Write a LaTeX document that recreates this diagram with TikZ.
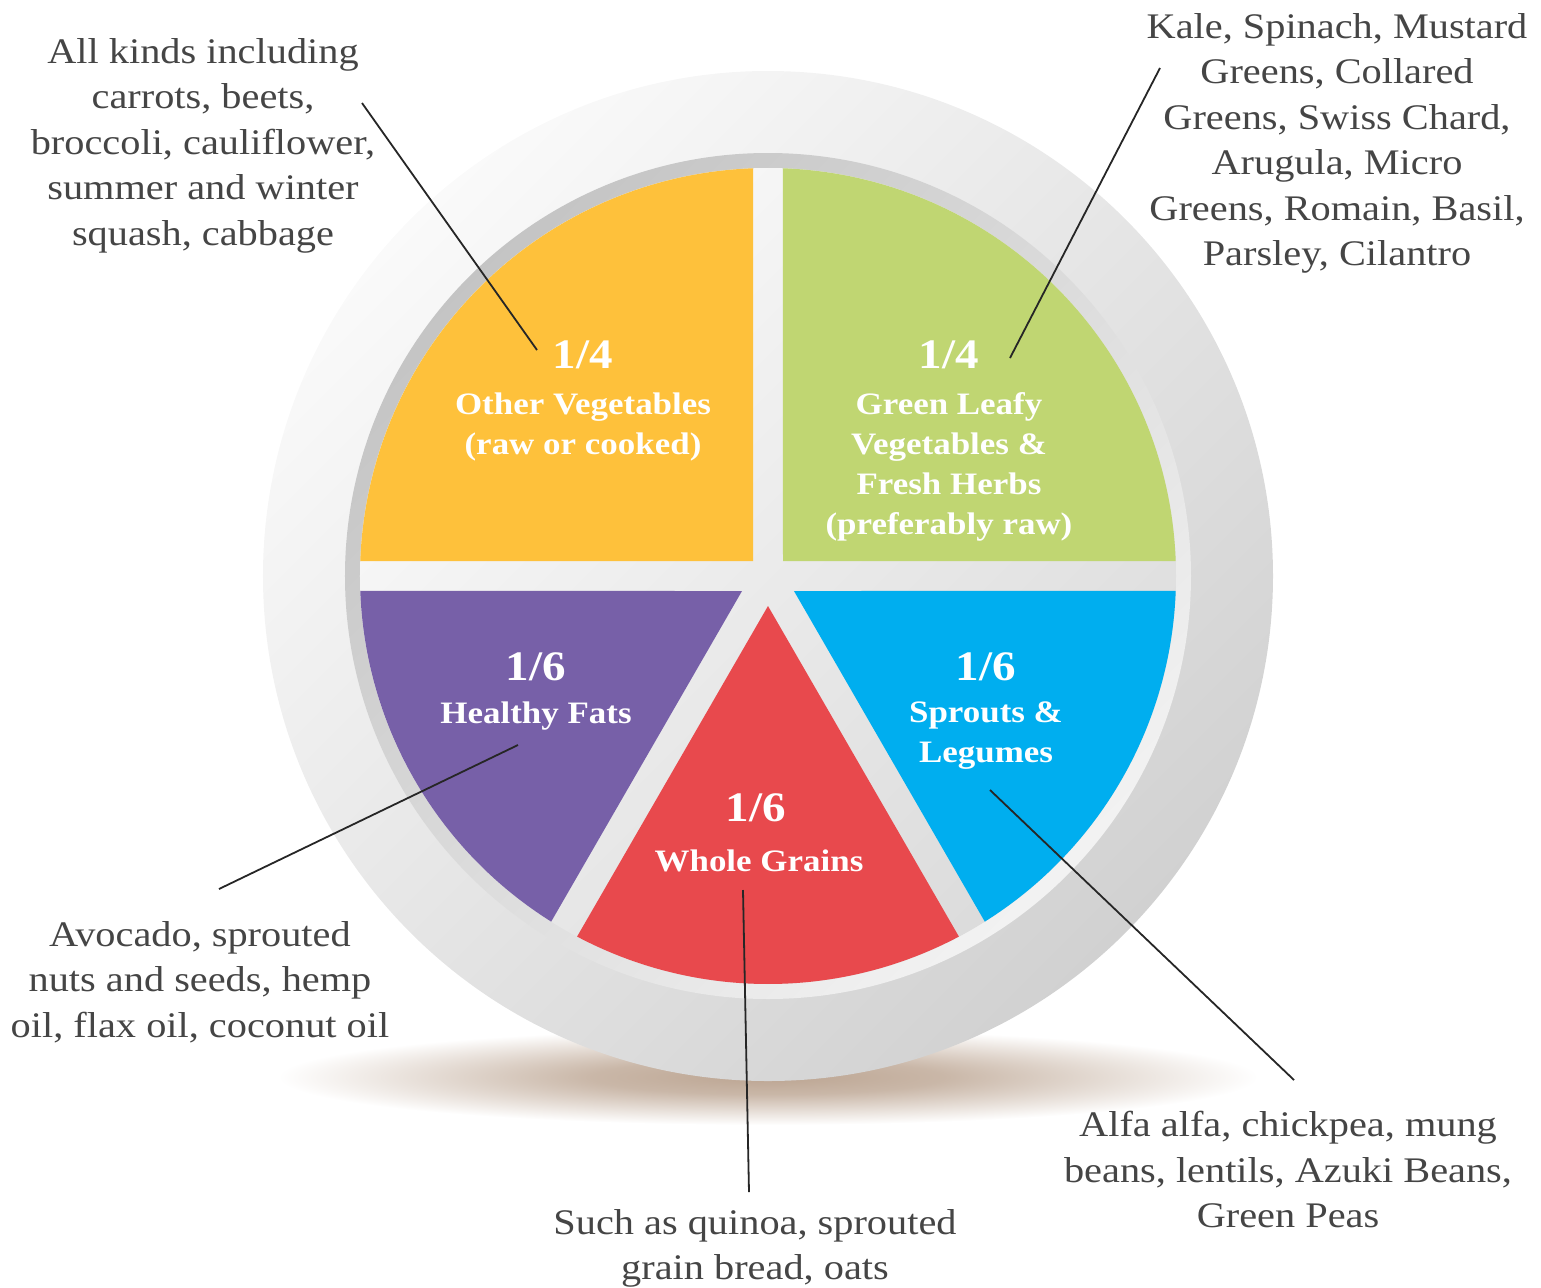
\documentclass[tikz,border=0pt]{standalone}
\usepackage{fontspec}
\setmainfont{Liberation Serif}[FakeStretch=1.12]

\definecolor{othveg}{HTML}{FEC13B}
\definecolor{leafy}{HTML}{C0D672}
\definecolor{fats}{HTML}{7760A8}
\definecolor{grains}{HTML}{E8494D}
\definecolor{sprouts}{HTML}{00AEEF}
\definecolor{notegray}{HTML}{454545}
\definecolor{shadowbrown}{HTML}{BCA592}

\pgfdeclareradialshading{plateshadow}{\pgfpoint{0bp}{0bp}}{color(0bp)=(shadowbrown);
    color(9bp)=(shadowbrown!80!white); color(25bp)=(white); color(50bp)=(white)}

\tikzset{
    note/.style={font=\fontsize{18}{22.75}\selectfont, text=notegray, align=center,
        inner sep=0pt, anchor=north},
    share/.style={font=\fontsize{21}{21}\selectfont\bfseries, text=white,
        inner sep=0pt, anchor=base},
    group/.style={font=\fontsize{15.6}{20}\selectfont\bfseries, text=white, align=center,
        inner sep=0pt, anchor=north},
    leader/.style={line width=0.9pt, black!85}
}

\begin{document}
\begin{tikzpicture}[x=0.5pt,y=0.5pt]
                \useasboundingbox (-768,-711) rectangle (773,576);

                \shade[shading=plateshadow] (0,-501) ellipse (490 and 48);

                \shade[top color=white!98!black, bottom color=white!82!black, shading angle=45]
                    (0,0) circle (505);
                \shade[top color=white!77!black, bottom color=white!95!black, shading angle=45]
                    (0,0) circle (423);
                \shade[top color=white!98!black, bottom color=white!86!black, shading angle=45]
                    (0,0) circle (408);

                \fill[othveg] (-15,15) -- (92.1:408) arc[start angle=92.1, end angle=177.9, radius=408] -- cycle;
                \fill[leafy] (15,15) -- (2.1:408) arc[start angle=2.1, end angle=87.9, radius=408] -- cycle;
                \fill[fats] (210:30) -- (182.1:408) arc[start angle=182.1, end angle=237.9, radius=408] -- cycle;
                \fill[grains] (270:30) -- (242.1:408) arc[start angle=242.1, end angle=297.9, radius=408] -- cycle;
                \fill[sprouts] (330:30) -- (302.1:408) arc[start angle=302.1, end angle=357.9, radius=408] -- cycle;

                \node[share] (Y) at (-185,208) {1/4};
                \node[group] (y) at (-185,184) {Other Vegetables\\(raw or cooked)};
                \node[share] (G) at (181,208) {1/4};
                \node[group] (g) at (181,184) {Green Leafy\\Vegetables \&\\Fresh Herbs\\(preferably raw)};
                \node[share] (P) at (-232,-104) {1/6};
                \node[group] (p) at (-232,-125) {Healthy Fats};
                \node[share] (R) at (-12,-245) {1/6};
                \node[group] (r) at (-9,-273) {Whole Grains};
                \node[share] (S) at (218,-104) {1/6};
                \node[group] (s) at (218,-125) {Sprouts \&\\Legumes};

                \node[note] (ny) at (-565,538) {All kinds including\\carrots, beets,\\broccoli, cauliflower,\\summer and winter\\squash, cabbage};
                \node[note] (ng) at (569,563) {Kale, Spinach, Mustard\\Greens, Collared\\Greens, Swiss Chard,\\Arugula, Micro\\Greens, Romain, Basil,\\Parsley, Cilantro};
                \node[note] (np) at (-568,-345) {Avocado, sprouted\\nuts and seeds, hemp\\oil, flax oil, coconut oil};
                \node[note] (nr) at (-13,-633) {Such as quinoa, sprouted\\grain bread, oats};
                \node[note] (ns) at (520,-535) {Alfa alfa, chickpea, mung\\beans, lentils, Azuki Beans,\\Green Peas};

                \coordinate (A) at (-231,226);
                \coordinate (a) at (-406,473);
                \coordinate (B) at (242,218);
                \coordinate (b) at (392,508);
                \coordinate (C) at (-250,-169);
                \coordinate (c) at (-549,-313);
                \coordinate (D) at (-25,-314);
                \coordinate (d) at (-19,-616);
                \coordinate (E) at (222,-214);
                \coordinate (e) at (526,-504);

                \draw[leader] (a) -- (A);
                \draw[leader] (b) -- (B);
                \draw[leader] (c) -- (C);
                \draw[leader] (d) -- (D);
                \draw[leader] (e) -- (E);

            \end{tikzpicture}
\end{document}
